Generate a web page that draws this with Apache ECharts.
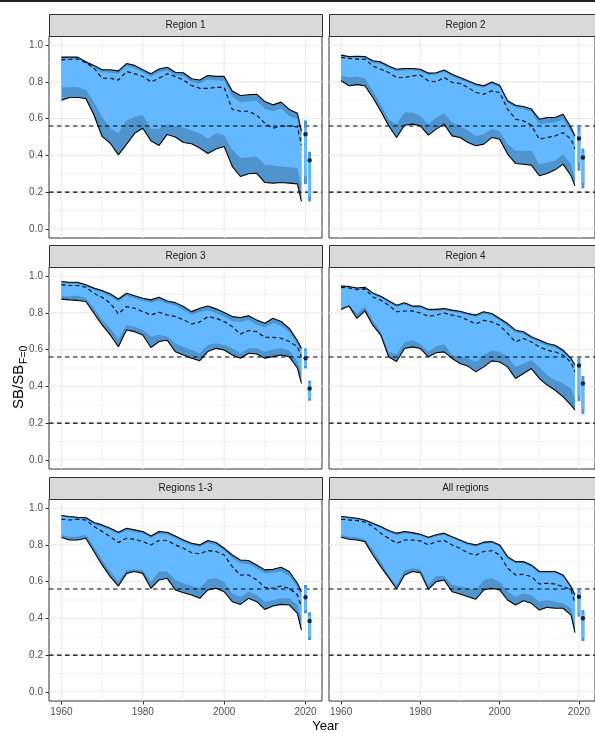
<!DOCTYPE html>
<html><head><meta charset="utf-8">
<script src="https://cdn.jsdelivr.net/npm/echarts@6/dist/echarts.min.js"></script>
<style>html,body{margin:0;padding:0;background:#fff}#c{width:595px;height:733px}</style>
</head><body><div id="c"></div>
<script>
// ---------------- data ----------------
const years = [1960,1962,1964,1966,1968,1970,1972,1974,1976,1978,1980,1982,1984,1986,1988,1990,1992,1994,1996,1998,2000,2002,2004,2006,2008,2010,2012,2014,2016,2018,2019];
const barYears = [2020, 2021];
const xTicks = [1960, 1980, 2000, 2020];
const xMinor = [1970, 1990, 2010];
const yTicks = [0, 0.2, 0.4, 0.6, 0.8, 1.0];
const yMinor = [0.1, 0.3, 0.5, 0.7, 0.9];
const refLines = [0.2, 0.56];
const panelNames = ['Region 1', 'Region 2', 'Region 3', 'Region 4', 'Regions 1-3', 'All regions'];

const reg1Hi95 = [0.935,0.935,0.935,0.91,0.89,0.866,0.866,0.86,0.90,0.89,0.866,0.845,0.87,0.88,0.853,0.85,0.817,0.81,0.835,0.83,0.83,0.75,0.726,0.73,0.733,0.693,0.675,0.69,0.65,0.63,0.53];
const reg1Hi80 = [0.925,0.928,0.928,0.90,0.876,0.853,0.85,0.845,0.885,0.873,0.852,0.828,0.852,0.862,0.836,0.832,0.798,0.792,0.815,0.808,0.806,0.72,0.688,0.693,0.698,0.655,0.64,0.655,0.615,0.597,0.50];
const reg1Med  = [0.92,0.922,0.924,0.905,0.875,0.82,0.82,0.81,0.857,0.844,0.83,0.80,0.82,0.844,0.83,0.81,0.78,0.765,0.765,0.77,0.77,0.65,0.64,0.64,0.62,0.575,0.548,0.56,0.56,0.555,0.457];
const reg1Lo80 = [0.771,0.771,0.771,0.757,0.69,0.61,0.548,0.52,0.59,0.61,0.62,0.545,0.545,0.57,0.56,0.55,0.535,0.52,0.49,0.52,0.51,0.43,0.385,0.39,0.394,0.348,0.345,0.34,0.335,0.33,0.23];
const reg1Lo95 = [0.70,0.715,0.715,0.71,0.62,0.503,0.466,0.403,0.46,0.52,0.548,0.48,0.454,0.514,0.50,0.47,0.463,0.44,0.41,0.435,0.448,0.34,0.285,0.30,0.303,0.252,0.249,0.252,0.249,0.245,0.149];

const reg2Hi95 = [0.946,0.938,0.94,0.938,0.915,0.909,0.887,0.869,0.873,0.873,0.869,0.848,0.85,0.865,0.842,0.824,0.806,0.788,0.779,0.80,0.782,0.697,0.673,0.666,0.652,0.597,0.606,0.606,0.624,0.552,0.506];
const reg2Hi80 = [0.938,0.93,0.932,0.93,0.905,0.898,0.875,0.858,0.862,0.862,0.858,0.836,0.84,0.855,0.83,0.812,0.795,0.776,0.768,0.788,0.77,0.685,0.66,0.652,0.636,0.568,0.578,0.58,0.595,0.53,0.49];
const reg2Med  = [0.933,0.928,0.924,0.924,0.887,0.869,0.851,0.824,0.824,0.833,0.837,0.806,0.80,0.824,0.797,0.791,0.77,0.742,0.733,0.751,0.742,0.652,0.597,0.588,0.564,0.488,0.497,0.506,0.524,0.488,0.434];
const reg2Lo80 = [0.833,0.824,0.83,0.82,0.751,0.679,0.597,0.57,0.633,0.633,0.615,0.57,0.606,0.63,0.579,0.561,0.533,0.506,0.515,0.543,0.533,0.461,0.425,0.425,0.425,0.352,0.361,0.37,0.407,0.352,0.27];
const reg2Lo95 = [0.806,0.779,0.785,0.779,0.715,0.642,0.561,0.497,0.564,0.57,0.561,0.51,0.543,0.57,0.506,0.497,0.47,0.452,0.461,0.497,0.488,0.407,0.356,0.352,0.347,0.289,0.301,0.321,0.352,0.289,0.234];

const reg3Hi95 = [0.971,0.967,0.967,0.953,0.935,0.922,0.904,0.876,0.907,0.893,0.88,0.871,0.885,0.865,0.856,0.835,0.807,0.825,0.838,0.822,0.802,0.78,0.775,0.784,0.762,0.744,0.771,0.753,0.716,0.65,0.607];
const reg3Hi80 = [0.962,0.958,0.958,0.945,0.925,0.91,0.89,0.862,0.892,0.878,0.865,0.855,0.868,0.85,0.84,0.815,0.79,0.805,0.815,0.80,0.78,0.755,0.75,0.762,0.735,0.72,0.745,0.73,0.695,0.63,0.59];
const reg3Med  = [0.953,0.949,0.949,0.94,0.907,0.885,0.853,0.795,0.835,0.825,0.807,0.789,0.804,0.789,0.78,0.762,0.74,0.75,0.78,0.771,0.753,0.725,0.685,0.704,0.698,0.667,0.667,0.662,0.644,0.616,0.562];
const reg3Lo80 = [0.893,0.89,0.895,0.88,0.825,0.762,0.716,0.656,0.735,0.725,0.707,0.671,0.68,0.671,0.635,0.616,0.598,0.58,0.625,0.635,0.625,0.607,0.58,0.607,0.607,0.589,0.602,0.607,0.598,0.535,0.47];
const reg3Lo95 = [0.875,0.871,0.868,0.862,0.798,0.735,0.68,0.616,0.707,0.698,0.68,0.612,0.644,0.651,0.589,0.571,0.553,0.54,0.59,0.607,0.598,0.571,0.553,0.58,0.576,0.553,0.562,0.571,0.562,0.50,0.416];

const reg4Hi95 = [0.947,0.944,0.936,0.94,0.909,0.891,0.866,0.842,0.855,0.837,0.837,0.819,0.819,0.824,0.815,0.809,0.797,0.788,0.806,0.797,0.77,0.742,0.706,0.697,0.67,0.652,0.633,0.624,0.597,0.553,0.518];
const reg4Hi80 = [0.94,0.939,0.93,0.934,0.90,0.882,0.856,0.832,0.845,0.828,0.828,0.81,0.81,0.815,0.806,0.80,0.787,0.778,0.795,0.787,0.758,0.728,0.694,0.685,0.658,0.64,0.62,0.61,0.584,0.545,0.503];
const reg4Med  = [0.938,0.936,0.927,0.931,0.887,0.869,0.842,0.806,0.81,0.811,0.80,0.782,0.788,0.80,0.788,0.779,0.76,0.739,0.76,0.751,0.733,0.688,0.642,0.661,0.642,0.615,0.597,0.588,0.57,0.532,0.479];
const reg4Lo80 = [0.829,0.842,0.797,0.833,0.76,0.697,0.588,0.575,0.642,0.652,0.63,0.588,0.619,0.63,0.57,0.561,0.552,0.534,0.57,0.597,0.588,0.561,0.506,0.525,0.543,0.506,0.461,0.434,0.416,0.388,0.325];
const reg4Lo95 = [0.818,0.837,0.77,0.811,0.733,0.679,0.561,0.535,0.606,0.615,0.606,0.561,0.583,0.588,0.552,0.525,0.51,0.479,0.506,0.539,0.533,0.506,0.443,0.47,0.497,0.443,0.407,0.379,0.343,0.298,0.27];

const reg13Hi95 = [0.96,0.955,0.951,0.949,0.922,0.909,0.891,0.869,0.891,0.882,0.873,0.849,0.873,0.869,0.849,0.827,0.809,0.80,0.824,0.813,0.782,0.745,0.718,0.715,0.691,0.664,0.667,0.678,0.655,0.591,0.545];
const reg13Hi80 = [0.952,0.948,0.944,0.94,0.912,0.898,0.88,0.858,0.878,0.87,0.862,0.838,0.86,0.857,0.838,0.815,0.797,0.788,0.81,0.80,0.768,0.728,0.70,0.695,0.672,0.645,0.648,0.655,0.632,0.57,0.525];
const reg13Med  = [0.94,0.936,0.94,0.936,0.90,0.873,0.845,0.813,0.836,0.831,0.818,0.80,0.824,0.824,0.80,0.782,0.758,0.751,0.769,0.764,0.745,0.682,0.636,0.636,0.609,0.569,0.564,0.576,0.564,0.527,0.464];
const reg13Lo80 = [0.855,0.845,0.845,0.855,0.791,0.718,0.655,0.60,0.664,0.667,0.664,0.60,0.655,0.655,0.609,0.591,0.576,0.564,0.613,0.618,0.60,0.536,0.518,0.545,0.527,0.491,0.50,0.509,0.509,0.473,0.391];
const reg13Lo95 = [0.84,0.827,0.827,0.836,0.764,0.691,0.627,0.576,0.645,0.655,0.645,0.564,0.609,0.618,0.555,0.54,0.527,0.509,0.555,0.564,0.545,0.491,0.476,0.509,0.491,0.449,0.467,0.476,0.473,0.427,0.336];

const allHi95 = [0.955,0.951,0.945,0.936,0.918,0.90,0.878,0.864,0.873,0.867,0.858,0.842,0.855,0.864,0.845,0.827,0.809,0.80,0.815,0.818,0.80,0.736,0.709,0.709,0.691,0.655,0.655,0.655,0.636,0.573,0.527];
const allHi80 = [0.948,0.944,0.938,0.93,0.91,0.893,0.87,0.853,0.863,0.857,0.85,0.834,0.847,0.855,0.836,0.818,0.80,0.79,0.805,0.81,0.79,0.725,0.70,0.70,0.68,0.645,0.645,0.645,0.625,0.565,0.52];
const allMed  = [0.94,0.936,0.933,0.925,0.90,0.864,0.836,0.809,0.827,0.827,0.822,0.80,0.818,0.824,0.80,0.782,0.755,0.745,0.764,0.769,0.745,0.673,0.636,0.64,0.627,0.587,0.591,0.587,0.573,0.555,0.482];
const allLo80 = [0.855,0.845,0.842,0.83,0.773,0.709,0.636,0.582,0.66,0.673,0.667,0.582,0.631,0.631,0.582,0.573,0.564,0.555,0.609,0.618,0.60,0.545,0.518,0.536,0.527,0.491,0.50,0.491,0.482,0.455,0.364];
const allLo95 = [0.842,0.831,0.827,0.818,0.745,0.682,0.622,0.56,0.636,0.655,0.649,0.558,0.60,0.609,0.545,0.533,0.518,0.504,0.555,0.564,0.555,0.50,0.473,0.496,0.482,0.445,0.46,0.455,0.455,0.418,0.322];

// projection bars: [lo95, lo80, median, hi80, hi95] for 2020 and 2021
const reg1Bars  = [[0.243,0.285,0.515,0.55,0.59],[0.149,0.18,0.374,0.39,0.42]];
const reg2Bars  = [[0.316,0.36,0.492,0.525,0.564],[0.22,0.25,0.388,0.415,0.437]];
const reg3Bars  = [[0.498,0.51,0.553,0.595,0.607],[0.322,0.335,0.389,0.418,0.431]];
const reg4Bars  = [[0.319,0.35,0.514,0.53,0.561],[0.249,0.275,0.416,0.43,0.457]];
const reg13Bars = [[0.427,0.445,0.515,0.563,0.582],[0.282,0.30,0.385,0.415,0.433]];
const allBars   = [[0.409,0.428,0.518,0.545,0.564],[0.276,0.296,0.40,0.425,0.445]];

// ---------------- build ----------------
const panels = [
  {hi95: reg1Hi95, hi80: reg1Hi80, med: reg1Med, lo80: reg1Lo80, lo95: reg1Lo95, bars: reg1Bars},
  {hi95: reg2Hi95, hi80: reg2Hi80, med: reg2Med, lo80: reg2Lo80, lo95: reg2Lo95, bars: reg2Bars},
  {hi95: reg3Hi95, hi80: reg3Hi80, med: reg3Med, lo80: reg3Lo80, lo95: reg3Lo95, bars: reg3Bars},
  {hi95: reg4Hi95, hi80: reg4Hi80, med: reg4Med, lo80: reg4Lo80, lo95: reg4Lo95, bars: reg4Bars},
  {hi95: reg13Hi95, hi80: reg13Hi80, med: reg13Med, lo80: reg13Lo80, lo95: reg13Lo95, bars: reg13Bars},
  {hi95: allHi95, hi80: allHi80, med: allMed, lo80: allLo80, lo95: allLo95, bars: allBars}
];

const FONT = "'Liberation Sans', Arial, sans-serif";
const X_MIN = 1956.95, X_MAX = 2024.05, Y_MIN = -0.05, Y_MAX = 1.05;
const colLeft = [49, 329], rowTop = [36, 267, 499];
const PW = 273, PH = 202, STRIP = 22;
const DARK = '#4F94CD', LIGHT = '#63B8FF';

const grids = [], xAxes = [], yAxes = [], series = [], graphics = [];

graphics.push({type: 'rect', shape: {x: 0, y: 0, width: 595, height: 2}, style: {fill: '#222'}, silent: true});

panels.forEach((p, i) => {
  const c = i % 2, r = Math.floor(i / 2);
  grids.push({left: colLeft[c], top: rowTop[r], width: PW, height: PH, show: true,
    borderColor: '#333', borderWidth: 1, backgroundColor: 'transparent', containLabel: false});
  const bottom = r === 2, left = c === 0;
  xAxes.push({gridIndex: i, type: 'value', position: 'bottom', min: X_MIN, max: X_MAX,
    axisLine: {show: false, onZero: false}, splitLine: {show: false},
    axisTick: {show: bottom, length: 3.5, lineStyle: {color: '#333'}, customValues: xTicks},
    axisLabel: {show: bottom, customValues: xTicks, color: '#4D4D4D', fontSize: 10, margin: 6, fontFamily: FONT,
      formatter: v => String(v)}});
  yAxes.push({gridIndex: i, type: 'value', position: 'left', min: Y_MIN, max: Y_MAX,
    axisLine: {show: false, onZero: false}, splitLine: {show: false},
    axisTick: {show: left, length: 3.5, lineStyle: {color: '#333'}, customValues: yTicks},
    axisLabel: {show: left, customValues: yTicks, color: '#4D4D4D', fontSize: 10, margin: 6, fontFamily: FONT,
      formatter: v => Number(v).toFixed(1)}});

  const base = {xAxisIndex: i, yAxisIndex: i, silent: true, animation: false};
  // grid lines
  const hLine = (vals, w) => Object.assign({type: 'custom', z: 1, data: vals.map(v => [X_MIN, v]),
    renderItem: (params, api) => {
      const cs = params.coordSys; const pt = api.coord([X_MIN, api.value(1)]);
      return {type: 'line', shape: {x1: cs.x, y1: pt[1], x2: cs.x + cs.width, y2: pt[1]}, style: {stroke: '#EBEBEB', lineWidth: w}};
    }}, base);
  const vLine = (vals, w) => Object.assign({type: 'custom', z: 1, data: vals.map(v => [v, Y_MIN]),
    renderItem: (params, api) => {
      const cs = params.coordSys; const pt = api.coord([api.value(0), Y_MIN]);
      return {type: 'line', shape: {x1: pt[0], y1: cs.y, x2: pt[0], y2: cs.y + cs.height}, style: {stroke: '#EBEBEB', lineWidth: w}};
    }}, base);
  series.push(hLine(yMinor, 0.6), vLine(xMinor, 0.6), hLine(yTicks, 1.1), vLine(xTicks, 1.1));

  // bands
  const band = (lo, hi, color, z) => Object.assign({type: 'custom', z: z, data: [[years[0], lo[0]]],
    renderItem: (params, api) => {
      const pts = [];
      for (let k = 0; k < years.length; k++) pts.push(api.coord([years[k], hi[k]]));
      for (let k = years.length - 1; k >= 0; k--) pts.push(api.coord([years[k], lo[k]]));
      return {type: 'polygon', shape: {points: pts}, style: {fill: color}};
    }}, base);
  series.push(band(p.lo95, p.hi95, DARK, 2), band(p.lo80, p.hi80, LIGHT, 3));

  const line = (arr, type, z) => Object.assign({type: 'line', z: z, showSymbol: false, symbol: 'none',
    data: years.map((y, k) => [y, arr[k]]),
    lineStyle: {color: '#000', width: 1.1, type: type}}, base);
  series.push(line(p.hi95, 'solid', 4), line(p.lo95, 'solid', 4), line(p.med, [4, 3], 5));

  // reference lines
  series.push(Object.assign({type: 'custom', z: 6, data: refLines.map(v => [X_MIN, v]),
    renderItem: (params, api) => {
      const cs = params.coordSys; const pt = api.coord([X_MIN, api.value(1)]);
      return {type: 'line', shape: {x1: cs.x, y1: pt[1], x2: cs.x + cs.width, y2: pt[1]},
        style: {stroke: '#000', lineWidth: 1.1, lineDash: [4.5, 3.5]}};
    }}, base));

  // projection bars
  series.push(Object.assign({type: 'custom', z: 7,
    data: barYears.map((y, j) => [y, p.bars[j][0], p.bars[j][1], p.bars[j][3], p.bars[j][4]]),
    renderItem: (params, api) => {
      const x = api.value(0);
      const a = api.coord([x, api.value(1)]), b = api.coord([x, api.value(4)]);
      const c1 = api.coord([x, api.value(2)]), d = api.coord([x, api.value(3)]);
      return {type: 'group', children: [
        {type: 'line', shape: {x1: a[0], y1: a[1], x2: b[0], y2: b[1]}, style: {stroke: DARK, lineWidth: 3}},
        {type: 'line', shape: {x1: c1[0], y1: c1[1], x2: d[0], y2: d[1]}, style: {stroke: LIGHT, lineWidth: 3}}
      ]};
    }}, base));
  series.push(Object.assign({type: 'scatter', z: 8, symbol: 'circle', symbolSize: 4.5,
    itemStyle: {color: '#000'}, data: barYears.map((y, j) => [y, p.bars[j][2]])}, base));

  // strip
  const sx = colLeft[c], sy = rowTop[r] - STRIP;
  graphics.push({type: 'rect', shape: {x: sx + 0.5, y: sy + 0.5, width: PW, height: STRIP},
    style: {fill: '#D9D9D9', stroke: '#333', lineWidth: 1}, silent: true, z: 10});
  graphics.push({type: 'text', x: sx + PW / 2, y: sy + STRIP / 2 + 0.5, silent: true, z: 11,
    style: {text: panelNames[i], fill: '#1A1A1A', fontSize: 10, fontFamily: FONT,
      align: 'center', verticalAlign: 'middle', textAlign: 'center', textVerticalAlign: 'middle'}});
});

// axis titles
graphics.push({type: 'text', x: 325.5, y: 726, silent: true,
  style: {text: 'Year', fill: '#000', fontSize: 13, fontFamily: FONT, align: 'center', verticalAlign: 'middle', textAlign: 'center', textVerticalAlign: 'middle'}});
graphics.push({type: 'text', x: 19, y: 409, rotation: Math.PI / 2, silent: true,
  style: {text: 'SB/SB', fill: '#000', fontSize: 15, fontFamily: FONT, align: 'left', verticalAlign: 'middle', textAlign: 'left', textVerticalAlign: 'middle'}});
graphics.push({type: 'text', x: 24.5, y: 364, rotation: Math.PI / 2, silent: true,
  style: {text: 'F=0', fill: '#000', fontSize: 10.5, fontFamily: FONT, align: 'left', verticalAlign: 'middle', textAlign: 'left', textVerticalAlign: 'middle'}});

const chart = echarts.init(document.getElementById('c'), null, {renderer: 'canvas'});
chart.setOption({
  animation: false,
  backgroundColor: '#fff',
  grid: grids, xAxis: xAxes, yAxis: yAxes, series: series, graphic: graphics
});
</script></body></html>
